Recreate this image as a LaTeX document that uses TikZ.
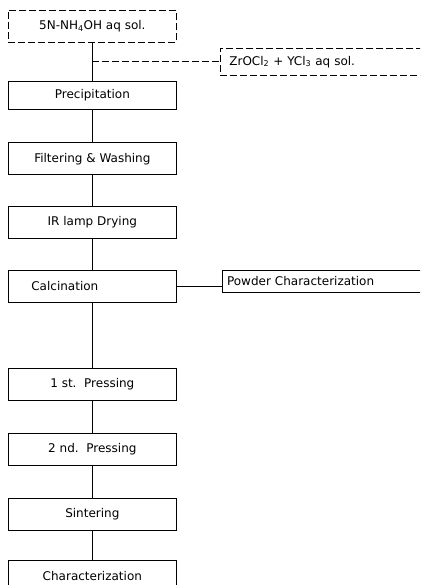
\documentclass[tikz,border=0pt]{standalone}
\usepackage{fontspec}
\setmainfont{DejaVu Sans}
\usetikzlibrary{positioning}

\begin{document}
\begin{tikzpicture}[
  x=1pt, y=-1pt,
  node distance=31pt,
  every node/.style={font=\fontsize{12}{14}\selectfont},
  stepbox/.style={rectangle, draw, line width=0.7pt, align=center, minimum width=168pt, minimum height=32pt, inner sep=2pt},
  feedbox/.style={stepbox, dash pattern=on 7pt off 3pt},
  link/.style={line width=0.8pt}
]
\clip (0,0) rectangle (420,585);

% Feed solutions
\node[feedbox, anchor=north west] (base) at (8,10) {5N-NH\textsubscript{4}OH aq sol.};
\node[feedbox, anchor=north west, minimum width=210pt, minimum height=27pt, text width=200pt, align=left, inner xsep=9pt] (salt) at (220,48) {ZrOCl\textsubscript{2} + YCl\textsubscript{3} aq sol.};

% Process steps
\node[stepbox, below=38pt of base, minimum height=28pt] (precip) {Precipitation};
\node[stepbox, below=33pt of precip] (filter) {Filtering \& Washing};
\node[stepbox, below=31pt of filter] (drying) {IR lamp Drying};
\node[stepbox, below=31pt of drying, text width=122pt, align=left, inner xsep=23pt] (calc) {Calcination};
\node[stepbox, anchor=north west, minimum height=22pt, minimum width=210pt, text width=200pt, align=left, inner xsep=5pt] (powder) at ([xshift=45pt]calc.north east) {Powder Characterization};
\node[stepbox, below=65pt of calc] (press1) {1 st.\ \ Pressing};
\node[stepbox, below=33pt of press1] (press2) {2 nd.\ \ Pressing};
\node[stepbox, below=32pt of press2] (sinter) {Sintering};
\node[stepbox, below=29pt of sinter] (charac) {Characterization};

% Connectors
\foreach \a/\b in {base/precip, precip/filter, filter/drying, drying/calc, calc/press1, press1/press2, press2/sinter, sinter/charac}
  \draw[link] (\a) -- (\b);
\draw[link, dash pattern=on 7pt off 3pt] (base.south |- salt.west) -- (salt.west);
\draw[link] (calc.east) -- (calc.east -| powder.west);

\end{tikzpicture}
\end{document}
